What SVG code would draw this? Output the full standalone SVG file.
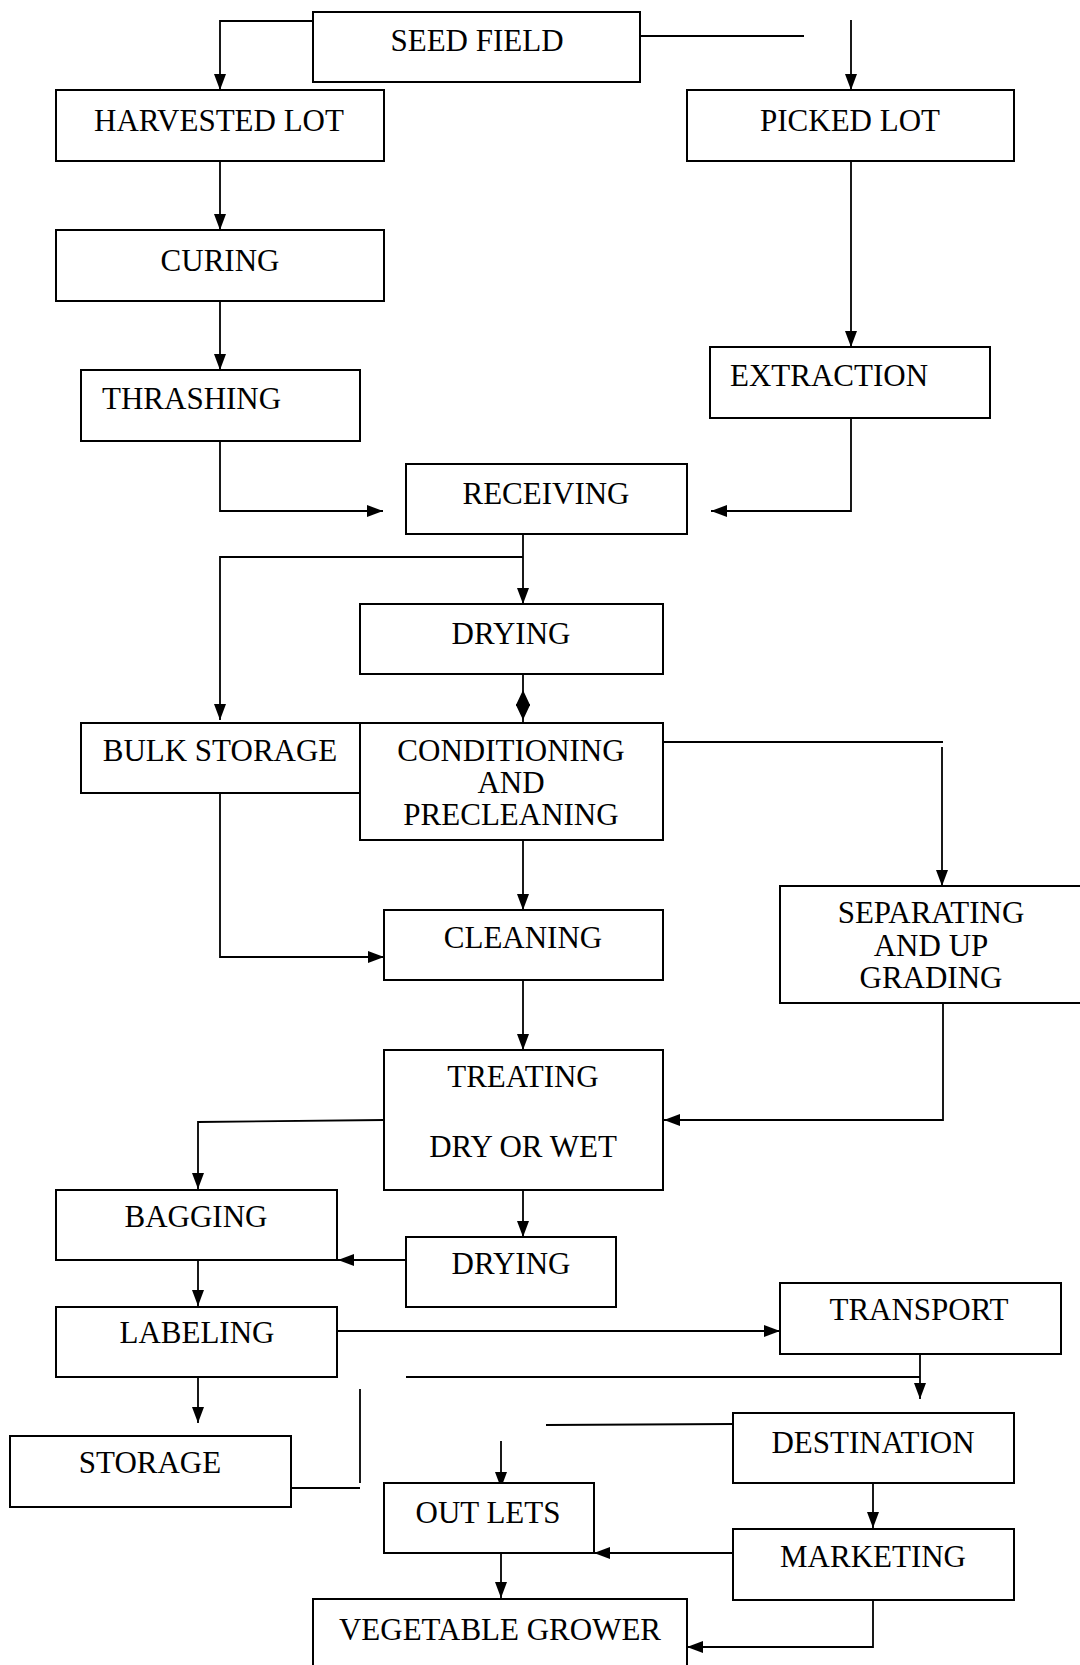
<svg xmlns="http://www.w3.org/2000/svg" width="1080" height="1665" viewBox="0 0 1080 1665">
<style>
.box{fill:#fff;stroke:#000;stroke-width:2}
.t{font-family:"Liberation Serif","Times New Roman",serif;font-size:31px;fill:#000;text-anchor:middle}
.ts{text-anchor:start}
.c{fill:none;stroke:#000;stroke-width:1.8}
</style>
<defs>
<marker id="ar" markerUnits="userSpaceOnUse" markerWidth="16" markerHeight="12" viewBox="0 0 16 12" refX="16" refY="6" orient="auto">
<path d="M0,0 L16,6 L0,12 z" fill="#000"/>
</marker>
</defs>
<rect width="1080" height="1665" fill="#fff"/>
<g id="connectors">
<path class="c" d="M313,21 H220 V90" marker-end="url(#ar)"/>
<path class="c" d="M640,36 H804"/>
<path class="c" d="M851,20 V90" marker-end="url(#ar)"/>
<path class="c" d="M220,161 V230" marker-end="url(#ar)"/>
<path class="c" d="M220,301 V370" marker-end="url(#ar)"/>
<path class="c" d="M851,161 V347" marker-end="url(#ar)"/>
<path class="c" d="M220,441 V511 H383" marker-end="url(#ar)"/>
<path class="c" d="M851,418 V511 H711" marker-end="url(#ar)"/>
<path class="c" d="M523,534 V604" marker-end="url(#ar)"/>
<path class="c" d="M523,557 H220 V720" marker-end="url(#ar)"/>
<path class="c" d="M523,674 V737"/>
<path d="M523,690 L530,705 L523,720 L516,705 z" fill="#000"/>
<path class="c" d="M516,705 H530"/>
<path class="c" d="M663,742 H943"/>
<path class="c" d="M942,747 V886" marker-end="url(#ar)"/>
<path class="c" d="M220,793 V957 H384" marker-end="url(#ar)"/>
<path class="c" d="M523,840 V910" marker-end="url(#ar)"/>
<path class="c" d="M523,980 V1050" marker-end="url(#ar)"/>
<path class="c" d="M943,1003 V1120 H664" marker-end="url(#ar)"/>
<path class="c" d="M663,1120 H384 L198,1122 V1189" marker-end="url(#ar)"/>
<path class="c" d="M523,1190 V1237" marker-end="url(#ar)"/>
<path class="c" d="M406,1260 H338" marker-end="url(#ar)"/>
<path class="c" d="M198,1260 V1306" marker-end="url(#ar)"/>
<path class="c" d="M337,1331 H780" marker-end="url(#ar)"/>
<path class="c" d="M198,1375 V1423" marker-end="url(#ar)"/>
<path class="c" d="M291,1488 H360"/>
<path class="c" d="M360,1389 V1483"/>
<path class="c" d="M406,1377 H920"/>
<path class="c" d="M920,1354 V1399" marker-end="url(#ar)"/>
<path class="c" d="M546,1425 L733,1424"/>
<path class="c" d="M501,1441 V1488" marker-end="url(#ar)"/>
<path class="c" d="M873,1483 V1528" marker-end="url(#ar)"/>
<path class="c" d="M733,1553 H594" marker-end="url(#ar)"/>
<path class="c" d="M501,1550 V1598" marker-end="url(#ar)"/>
<path class="c" d="M873,1600 V1647 H687" marker-end="url(#ar)"/>
</g>
<g id="seed-field"><rect class="box" x="313" y="12" width="327" height="70"/><text class="t" x="477" y="51">SEED FIELD</text></g>
<g id="harvested-lot"><rect class="box" x="56" y="90" width="328" height="71"/><text class="t" x="219" y="131">HARVESTED LOT</text></g>
<g id="picked-lot"><rect class="box" x="687" y="90" width="327" height="71"/><text class="t" x="850" y="131">PICKED LOT</text></g>
<g id="curing"><rect class="box" x="56" y="230" width="328" height="71"/><text class="t" x="220" y="271">CURING</text></g>
<g id="thrashing"><rect class="box" x="81" y="370" width="279" height="71"/><text class="t ts" x="102" y="409">THRASHING</text></g>
<g id="extraction"><rect class="box" x="710" y="347" width="280" height="71"/><text class="t ts" x="730" y="386">EXTRACTION</text></g>
<g id="receiving"><rect class="box" x="406" y="464" width="281" height="70"/><text class="t" x="546" y="504">RECEIVING</text></g>
<g id="drying"><rect class="box" x="360" y="604" width="303" height="70"/><text class="t" x="511" y="644">DRYING</text></g>
<g id="bulk-storage"><rect class="box" x="81" y="723" width="279" height="70"/><text class="t" x="220" y="761">BULK STORAGE</text></g>
<g id="conditioning"><rect class="box" x="360" y="723" width="303" height="117"/><text class="t" x="511" y="761">CONDITIONING</text><text class="t" x="511" y="793">AND</text><text class="t" x="511" y="825">PRECLEANING</text></g>
<g id="cleaning"><rect class="box" x="384" y="910" width="279" height="70"/><text class="t" x="523" y="948">CLEANING</text></g>
<g id="separating"><rect class="box" x="780" y="886" width="302" height="117"/><text class="t" x="931" y="923">SEPARATING</text><text class="t" x="931" y="956">AND UP</text><text class="t" x="931" y="988">GRADING</text></g>
<g id="treating"><rect class="box" x="384" y="1050" width="279" height="140"/><text class="t" x="523" y="1087">TREATING</text><text class="t" x="523" y="1157">DRY OR WET</text></g>
<g id="bagging"><rect class="box" x="56" y="1190" width="281" height="70"/><text class="t" x="196" y="1227">BAGGING</text></g>
<g id="drying-2"><rect class="box" x="406" y="1237" width="210" height="70"/><text class="t" x="511" y="1274">DRYING</text></g>
<g id="labeling"><rect class="box" x="56" y="1307" width="281" height="70"/><text class="t" x="197" y="1343">LABELING</text></g>
<g id="transport"><rect class="box" x="780" y="1283" width="281" height="71"/><text class="t" x="919" y="1320">TRANSPORT</text></g>
<g id="storage"><rect class="box" x="10" y="1436" width="281" height="71"/><text class="t" x="150" y="1473">STORAGE</text></g>
<g id="destination"><rect class="box" x="733" y="1413" width="281" height="70"/><text class="t" x="873" y="1453">DESTINATION</text></g>
<g id="out-lets"><rect class="box" x="384" y="1483" width="210" height="70"/><text class="t" x="488" y="1523">OUT LETS</text></g>
<g id="marketing"><rect class="box" x="733" y="1529" width="281" height="71"/><text class="t" x="873" y="1567">MARKETING</text></g>
<g id="vegetable-grower"><rect class="box" x="313" y="1599" width="374" height="80"/><text class="t" x="500" y="1640">VEGETABLE GROWER</text></g>
</svg>
